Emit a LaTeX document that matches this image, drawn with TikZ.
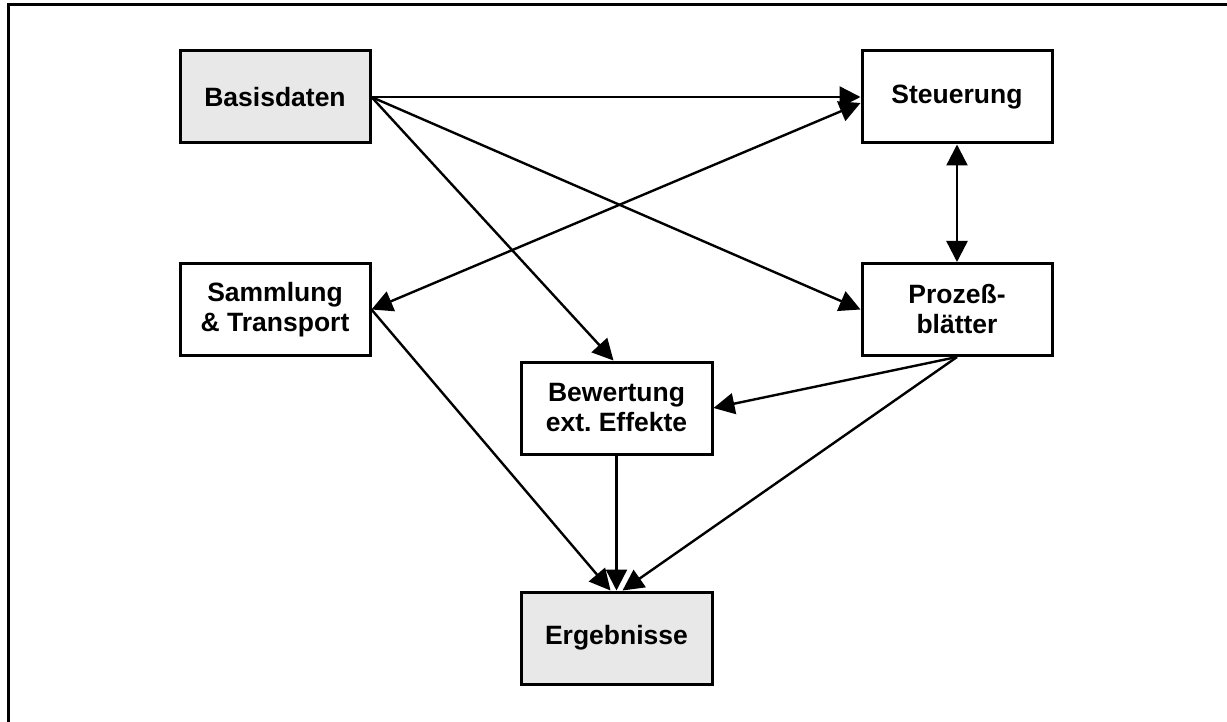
\documentclass[tikz,border=0pt]{standalone}
\usepackage{fontspec}
\setmainfont{Liberation Sans}
\usetikzlibrary{arrows.meta}
\definecolor{boxgray}{HTML}{E8E8E8}
\frenchspacing
\begin{document}
\begin{tikzpicture}[x=1pt,y=-1pt,
  box/.style={draw=black, line width=3pt, fill=white, minimum width=190pt, minimum height=92pt,
    inner sep=0pt, align=center, font=\fontsize{26.5}{30}\selectfont\bfseries},
  graybox/.style={box, fill=boxgray},
  tip/.style={},
  conn/.style={line width=2.4pt, -{Triangle[length=21pt,width=21pt]}},
  conn2/.style={line width=2.4pt, {Triangle[length=21pt,width=21pt]}-{Triangle[length=21pt,width=21pt]}}]
\useasboundingbox (0,0) rectangle (1227,722);
\draw[line width=3pt] (8,722) -- (8,5) -- (1227,5);
\node[graybox] (ba) at (275,97) {Basisdaten};
\node[box] (st) at (957,97) {Steuerung};
\node[box] (sa) at (275,309.5) {Sammlung\\\& Transport};
\node[box] (pr) at (957,309.5) {Prozeß-\\blätter};
\node[box, minimum width=191pt] (bw) at (616.5,408) {Bewertung\\ext. Effekte};
\node[graybox, minimum width=191pt] (er) at (616.5,638) {Ergebnisse};
\draw[conn] (ba.east) -- (st.west);
\draw[conn] (ba.east) -- (pr.west);
\draw[conn] (ba.east) -- ([xshift=-3pt]bw.north);
\draw[conn2] (sa.east) -- ([yshift=-6pt]st.west);
\draw[conn2] (st.south) -- (pr.north);
\draw[conn] (pr.south) -- (bw.east);
\draw[conn] (pr.south) -- ([xshift=6pt]er.north);
\draw[conn] (sa.east) -- ([xshift=-6pt]er.north);
\draw[conn] (bw.south) -- (er.north);
\end{tikzpicture}
\end{document}
